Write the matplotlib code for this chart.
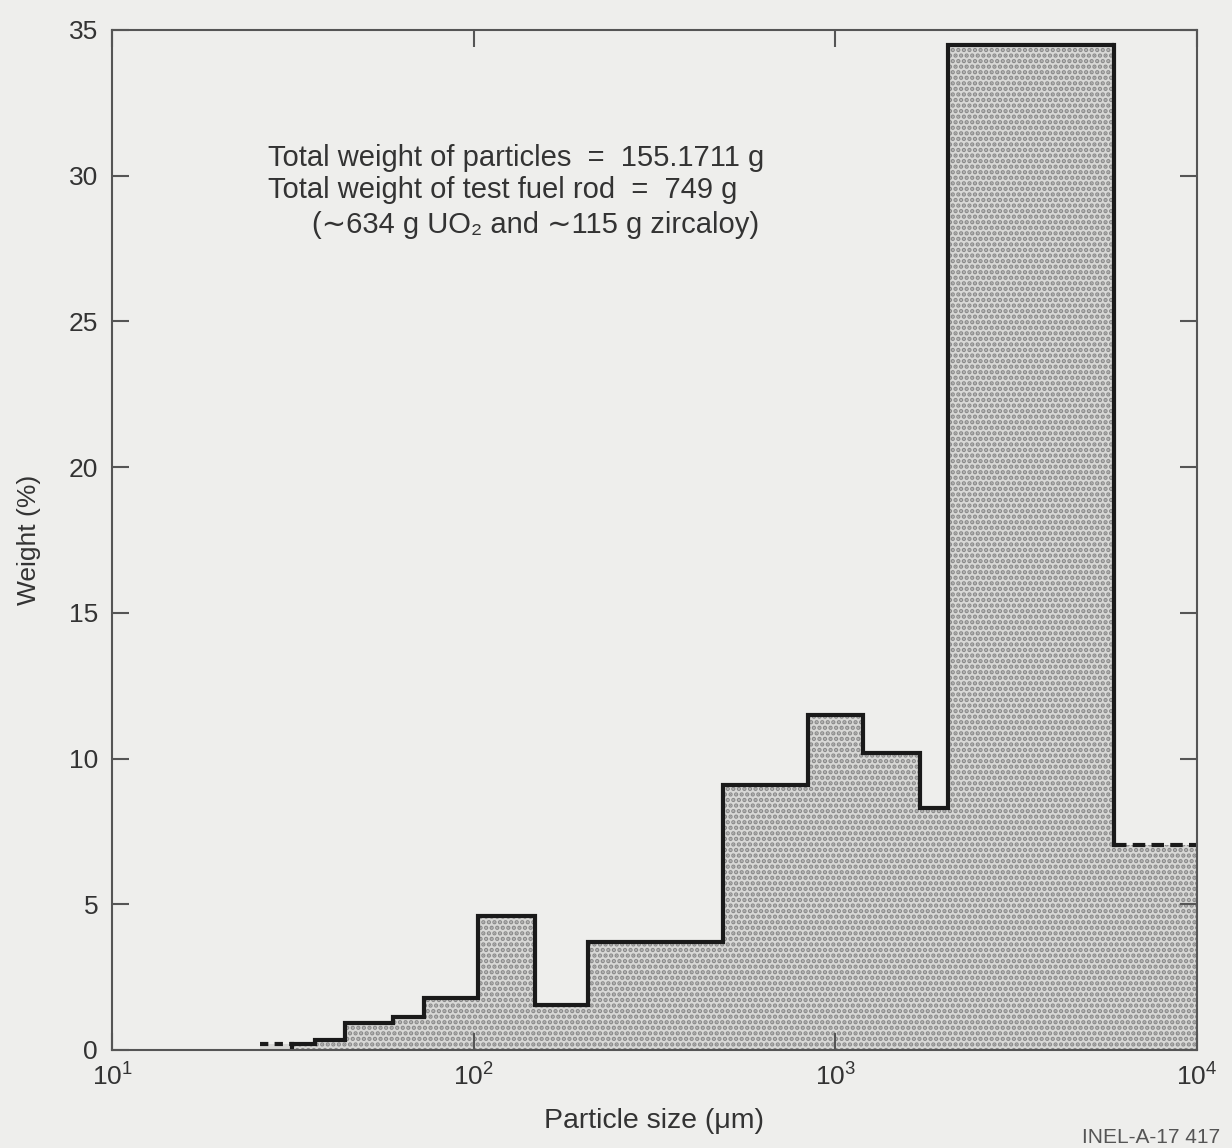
import matplotlib
matplotlib.use("Agg")
import matplotlib.pyplot as plt

plt.rcParams['font.family'] = ['Liberation Sans', 'DejaVu Sans']
plt.rcParams['hatch.color'] = '#8a8a8a'
plt.rcParams['hatch.linewidth'] = 2.2

# sieve bin edges (um) and weight percent per bin
edges = [31.5, 36.5, 44, 60, 73, 103, 148, 207, 490, 840, 1190, 1710, 2050, 5900]
weights = [0.2, 0.35, 0.92, 1.13, 1.8, 4.6, 1.54, 3.7, 9.1, 11.5, 10.2, 8.3, 34.5]

# dashed (extrapolated) ends
left_dash_x = [25.7, 31.5]
left_dash_y = [0.2, 0.2]
right_dash_x = [5900, 10000]
right_dash_y = [7.05, 7.05]

bg = '#eeeeec'
fig = plt.figure(figsize=(12.32, 11.48), dpi=100, facecolor=bg)
ax = fig.add_axes([0.0909, 0.0854, 0.8807, 0.8885], facecolor=bg)

# filled area including the dashed tail at the right
fx = edges + [right_dash_x[1]]
fy = weights + [right_dash_y[0]]
ax.fill_between(fx, fy + [fy[-1]], step='post', facecolor='#d8d8d6',
                edgecolor='#8a8a8a', linewidth=0, hatch='...')
ax.fill_between(left_dash_x, left_dash_y, step='post', facecolor='#d8d8d6',
                linewidth=0)

ax.stairs(weights, edges, baseline=None, color='#1a1a1a', linewidth=3)
ax.plot([edges[0], edges[0]], [0, weights[0]], color='#1a1a1a', linewidth=3)
ax.plot([edges[-1], edges[-1]], [weights[-1], right_dash_y[0]], color='#1a1a1a', linewidth=3)
ax.plot(left_dash_x, left_dash_y, color='#1a1a1a', linewidth=3, linestyle=(0, (2, 1.5)))
ax.plot(right_dash_x, right_dash_y, color='#1a1a1a', linewidth=3, linestyle=(0, (3, 1.5)))

ax.set_xscale('log')
ax.set_xlim(10, 10000)
ax.set_ylim(0, 35)
ax.set_yticks([0, 5, 10, 15, 20, 25, 30, 35])
ax.set_xticks([10, 100, 1000, 10000])
ax.xaxis.set_minor_locator(matplotlib.ticker.NullLocator())
ax.tick_params(which='both', direction='in', top=True, right=True, length=12,
               width=1.5, color='#555555', labelsize=19, labelcolor='#333333', pad=10)
for s in ax.spines.values():
    s.set_color('#555555')
    s.set_linewidth(1.5)

ax.set_xlabel('Particle size (\u03bcm)', fontsize=20.5, color='#333333', labelpad=12)
ax.set_ylabel('Weight (%)', fontsize=19, color='#333333', labelpad=20)

tkw = dict(transform=ax.transAxes, fontsize=21, color='#333333', va='center')
ax.text(0.1438, 0.8745, 'Total weight of particles  =  155.1711 g', **tkw)
ax.text(0.1438, 0.843, 'Total weight of test fuel rod  =  749 g', **tkw)
ax.text(0.184, 0.809, '(\u223c634 g UO\u2082 and \u223c115 g zircaloy)', **tkw)

fig.text(0.99, 0.001, 'INEL-A-17 417', fontsize=15, color='#555555',
         va='bottom', ha='right')

fig.savefig('out.png', dpi=100, facecolor=bg)
